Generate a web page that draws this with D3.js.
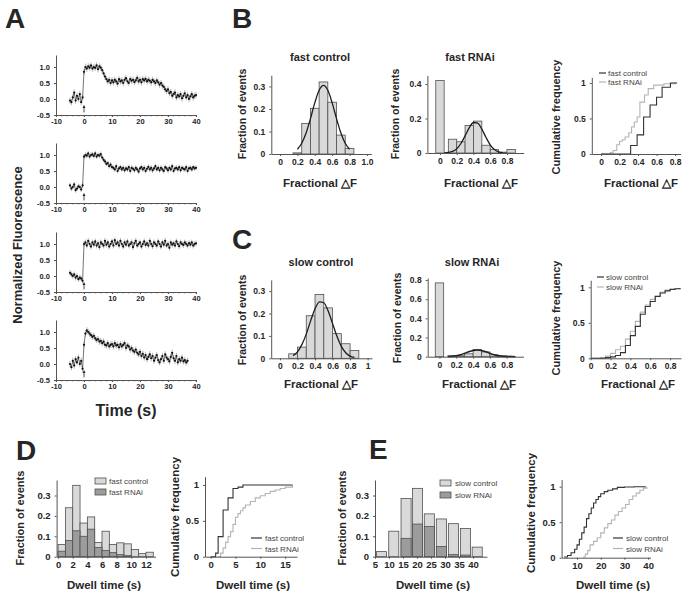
<!DOCTYPE html>
<html><head><meta charset="utf-8">
<script src="https://cdn.jsdelivr.net/npm/d3@7"></script>
<style>
body{margin:0;background:#fff}
svg{font-family:"Liberation Sans",Arial,sans-serif}
</style>
</head><body>
<svg id="c" width="692" height="595"></svg>
<script>
// ---------------- DATA ----------------
// Panel A: normalized fluorescence traces (time in s)
const traceTime = [-5,-4.5,-4,-3.5,-3,-2.5,-2,-1.5,-1,-0.5,0,0.5,1,1.5,2,2.5,3,3.5,4,4.5,5,5.5,6,6.5,7,7.5,8,8.5,9,9.5,10,10.5,11,11.5,12,12.5,13,13.5,14,14.5,15,15.5,16,16.5,17,17.5,18,18.5,19,19.5,20,20.5,21,21.5,22,22.5,23,23.5,24,24.5,25,25.5,26,26.5,27,27.5,28,28.5,29,29.5,30,30.5,31,31.5,32,32.5,33,33.5,34,34.5,35,35.5,36,36.5,37,37.5,38,38.5,39,39.5,40];
const trace1 = [-0.05,-0.1,0.05,0.2,-0.05,0.1,0.0,0.15,-0.1,0.05,
  0.85,
  1.0,0.95,1.02,0.98,1.05,0.95,1.0,0.97,1.05,0.93,1.02,0.98,
  0.9,0.8,0.7,0.62,0.55,0.6,0.5,0.58,
  0.52,0.6,0.55,0.48,0.62,0.55,0.58,0.5,0.6,0.65,0.55,0.5,0.62,0.57,0.6,0.53,0.58,0.66,0.55,0.6,0.52,0.62,0.58,0.63,0.55,0.6,0.57,0.52,0.6,0.55,0.5,0.58,0.52,0.45,
  0.5,0.42,0.38,0.3,0.25,0.3,0.18,0.22,0.1,0.15,0.2,0.05,0.12,0.08,0.15,0.02,0.1,0.18,0.05,0.12,0.0,0.08,0.15,0.05,0.1,0.12];
const trace2 = [0.05,-0.05,0.0,0.08,-0.1,-0.05,0.02,0.0,-0.08,0.05,
  0.95,
  1.0,0.98,1.05,0.95,1.0,1.02,0.97,1.05,0.95,1.0,0.98,1.03,
  0.92,0.85,0.8,0.72,0.75,0.65,0.7,0.62,
  0.6,0.55,0.65,0.5,0.58,0.62,0.55,0.6,0.52,0.58,0.55,0.62,0.5,0.6,0.57,0.52,0.6,0.55,0.48,0.58,0.62,0.55,0.6,0.5,0.57,0.63,0.55,0.6,0.52,0.58,0.65,0.55,0.6,0.52,
  0.6,0.55,0.5,0.62,0.58,0.52,0.6,0.55,0.65,0.5,0.58,0.6,0.55,0.62,0.52,0.6,0.57,0.55,0.62,0.5,0.58,0.6,0.55,0.62,0.58,0.6];
const trace3 = [0.1,0.05,0.0,0.05,-0.05,0.0,-0.1,-0.05,-0.08,-0.15,
  1.0,
  1.05,0.95,1.1,1.0,0.92,1.05,0.98,1.08,0.95,1.02,0.9,1.05,
  1.0,0.95,1.1,0.98,1.05,0.92,1.0,1.08,
  0.95,1.12,1.0,1.05,0.95,1.1,1.0,0.92,1.05,0.98,1.08,0.95,1.0,1.05,0.9,1.02,1.1,0.95,1.0,1.05,0.92,1.0,1.08,0.97,1.02,0.95,1.1,1.0,0.93,1.05,1.0,0.95,1.08,1.0,
  0.92,1.05,0.98,1.1,0.95,1.0,0.88,1.05,0.98,1.02,0.95,1.08,1.0,0.93,1.05,1.0,0.97,1.05,1.0,0.95,1.03,0.98,1.05,0.95,1.0,1.02];
const trace4 = [0.0,-0.1,0.1,-0.05,0.15,0.05,0.2,0.0,0.1,-0.15,
  0.6,
  0.95,1.05,1.0,0.95,0.9,0.85,0.88,0.8,0.75,0.78,0.7,0.72,
  0.65,0.7,0.6,0.58,0.65,0.55,0.6,0.62,
  0.55,0.65,0.58,0.6,0.52,0.62,0.55,0.6,0.65,0.5,0.58,0.55,0.45,0.5,0.42,0.38,0.45,0.35,0.3,0.38,0.25,0.32,0.2,0.28,0.15,0.22,0.3,0.18,0.25,0.1,0.2,0.28,0.12,0.05,
  0.15,0.25,0.1,0.3,0.2,0.15,0.08,0.22,0.35,0.18,0.1,0.25,0.05,0.15,0.1,0.2,0.08,0.12,0.05,0.1];
const traceErr = [0.1, 0.08, 0.09, 0.1];
const traceTicksX = [-10,0,10,20,30,40];
const traceTicksY = [-0.5,0,0.5,1.0];

// Panel B
const fastCtrlBin = [0.2,0.3,0.4,0.5,0.6,0.7,0.8];
const fastCtrlFrac = [0.005,0.136,0.203,0.32,0.23,0.084,0.025];
const fastCtrlFitX = [0.2,0.25,0.3,0.35,0.4,0.45,0.5,0.55,0.6,0.65,0.7,0.75,0.8];
const fastCtrlFitY = [0.021,0.048,0.093,0.157,0.227,0.283,0.305,0.283,0.227,0.157,0.093,0.048,0.021];
const fastRNAiBin = [0,0.15,0.25,0.35,0.45,0.55,0.65,0.75,0.85];
const fastRNAiFrac = [0.42,0.08,0.065,0.16,0.185,0.045,0.02,0.005,0.02];
const fastRNAiFitX = [0.05,0.1,0.15,0.2,0.25,0.3,0.35,0.4,0.45,0.5,0.55,0.6,0.65,0.7,0.75];
const fastRNAiFitY = [0.001,0.003,0.009,0.024,0.055,0.099,0.147,0.177,0.173,0.138,0.09,0.047,0.02,0.007,0.002];
const fastCtrlCumX = [0,0.32,0.39,0.46,0.53,0.6,0.66,0.75,0.82];
const fastCtrlCumY = [0,0.12,0.27,0.52,0.69,0.8,0.94,1.0,1.0];
const fastRNAiCumX = [0,0.1,0.13,0.17,0.2,0.23,0.26,0.3,0.33,0.36,0.39,0.42,0.47,0.51,0.57,0.68,0.8,0.82];
const fastRNAiCumY = [0,0.02,0.05,0.13,0.18,0.2,0.24,0.3,0.38,0.45,0.52,0.73,0.83,0.92,0.97,0.99,1.0,1.0];

// Panel C
const slowCtrlBin = [0.15,0.25,0.35,0.45,0.55,0.65,0.75,0.85];
const slowCtrlFrac = [0.02,0.05,0.19,0.285,0.225,0.11,0.065,0.035];
const slowCtrlFitX = [0.15,0.2,0.25,0.3,0.35,0.4,0.45,0.5,0.55,0.6,0.65,0.7,0.75,0.8,0.85];
const slowCtrlFitY = [0.012,0.029,0.061,0.108,0.167,0.221,0.252,0.248,0.211,0.155,0.098,0.053,0.025,0.01,0.004];
const slowRNAiBin = [0,0.15,0.25,0.35,0.45,0.55,0.65,0.75,0.85];
const slowRNAiFrac = [0.77,0.01,0.01,0.03,0.075,0.05,0.02,0.01,0.005];
const slowRNAiFitX = [0.1,0.15,0.2,0.25,0.3,0.35,0.4,0.45,0.5,0.55,0.6,0.65,0.7,0.75,0.8,0.85,0.9];
const slowRNAiFitY = [0.002,0.005,0.011,0.021,0.036,0.052,0.065,0.07,0.065,0.052,0.036,0.021,0.011,0.005,0.002,0.001,0];
const slowCtrlCumX = [0,0.15,0.2,0.25,0.3,0.35,0.4,0.45,0.5,0.55,0.6,0.65,0.7,0.75,0.8,0.85,0.9];
const slowCtrlCumY = [0,0.01,0.02,0.04,0.08,0.18,0.32,0.45,0.62,0.73,0.8,0.87,0.92,0.95,0.97,0.98,0.99];
const slowRNAiCumX = [0,0.1,0.15,0.2,0.25,0.3,0.35,0.4,0.45,0.5,0.55,0.6,0.65,0.7,0.75,0.8,0.9];
const slowRNAiCumY = [0,0.01,0.03,0.07,0.12,0.17,0.27,0.38,0.52,0.65,0.75,0.83,0.88,0.93,0.96,0.98,0.99];

// Panel D
const fastDwellBin = [0.5,1.5,2.5,3.5,4.5,5.5,6.5,7.5,8.5,9.5,10.5,11.5,12.5];
const fastCtrlDwellHist = [0.06,0.24,0.35,0.165,0.195,0.07,0.125,0.06,0.068,0.063,0.035,0.015,0.022];
const fastRNAiDwellHist = [0.027,0.08,0.127,0.1,0.135,0.045,0.03,0.02,0.01,0.005,0,0,0];
const fastCtrlDwellCumX = [0,1,1.5,2.5,3.5,4.5,5.5,6.5,16.5];
const fastCtrlDwellCumY = [0,0.05,0.28,0.65,0.82,0.95,0.97,1.0,1.0];
const fastRNAiDwellCumX = [1.5,2,2.5,3,3.5,4,4.5,5,5.5,6,6.5,7,8,9,10,11,12,13,14,15,16.5];
const fastRNAiDwellCumY = [0,0.05,0.12,0.2,0.28,0.35,0.45,0.55,0.6,0.64,0.68,0.72,0.77,0.82,0.85,0.88,0.91,0.93,0.95,0.97,1.0];

// Panel E
const slowDwellBin = [7.3,11.7,16.1,20.2,24.4,28.7,33.0,37.3,41.5];
const slowCtrlDwellHist = [0.025,0.125,0.285,0.335,0.21,0.185,0.162,0.138,0.047];
const slowRNAiDwellHist = [0,0,0.09,0.16,0.148,0.05,0.01,0.008,0];
const slowCtrlDwellCumX = [4.5,6,7.5,9,10,11,12,13,14,15,16,17,18,19,20,21.5,23,25,27,30,34,39];
const slowCtrlDwellCumY = [0.01,0.03,0.07,0.12,0.18,0.26,0.35,0.43,0.55,0.62,0.7,0.77,0.82,0.86,0.9,0.93,0.95,0.97,0.99,0.995,1.0,1.0];
const slowRNAiDwellCumX = [12.5,13.5,14.5,15.5,17,18.5,20,21.5,23,24.5,26,27.5,29,30.5,32,33.5,35,36.5,38,39.5];
const slowRNAiDwellCumY = [0.01,0.05,0.1,0.18,0.23,0.28,0.35,0.42,0.48,0.53,0.6,0.65,0.7,0.75,0.82,0.87,0.91,0.95,0.98,1.0];

// ---------------- DRAWING ----------------
const svg = d3.select("#c");
const INK = "#262626", AX = "#555";
const LIGHT = "#d9d9d9", DARK = "#9c9c9c";

function txt(x, y, s, size, opts = {}) {
  const t = svg.append("text").attr("x", x).attr("y", y).text(s)
    .attr("font-size", size).attr("fill", opts.fill || INK)
    .attr("font-weight", opts.weight || "bold")
    .attr("text-anchor", opts.anchor || "middle");
  if (opts.rot) t.attr("transform", `rotate(-90,${x},${y})`);
  return t;
}

function axes(x, y, o) {
  const g = svg.append("g");
  const gx = g.append("g").attr("transform", `translate(0,${y.range()[0]})`)
    .call(d3.axisBottom(x).tickValues(o.xt).tickFormat((d, i) => o.xl[i])
      .tickSize(o.ts || 2).tickSizeOuter(0).tickPadding(o.xpad || 3));
  const gy = g.append("g").attr("transform", `translate(${x.range()[0]},0)`)
    .call(d3.axisLeft(y).tickValues(o.yt).tickFormat((d, i) => o.yl[i])
      .tickSize(o.ts || 2).tickSizeOuter(0).tickPadding(o.ypad || 4));
  g.selectAll(".domain").attr("stroke", AX).attr("stroke-width", 1);
  g.selectAll(".tick line").attr("stroke", AX);
  g.selectAll("text").attr("font-size", o.fs || 8.5).attr("fill", INK)
    .attr("font-weight", "bold").attr("font-family", "Liberation Sans, Arial, sans-serif");
  return g;
}

function bars(x, y, centers, vals, w, fill) {
  svg.append("g").selectAll("rect").data(centers.map((c, i) => [c, vals[i]])).join("rect")
    .attr("x", d => x(d[0] - w / 2)).attr("width", d => x(d[0] + w / 2) - x(d[0] - w / 2))
    .attr("y", d => y(d[1])).attr("height", d => y(0) - y(d[1]))
    .attr("fill", fill).attr("stroke", "#505050").attr("stroke-width", 0.8);
}

function curve(x, y, xs, ys, color, width, kind) {
  const line = d3.line().x(d => x(d[0])).y(d => y(d[1]))
    .curve(kind === "step" ? d3.curveStepAfter : d3.curveMonotoneX);
  svg.append("path").datum(xs.map((v, i) => [v, ys[i]]))
    .attr("d", line).attr("fill", "none").attr("stroke", color).attr("stroke-width", width);
}

// ---- Panel letters ----
txt(5, 28, "A", 28, {anchor: "start"});
txt(232, 28, "B", 28, {anchor: "start"});
txt(232, 249, "C", 28, {anchor: "start"});
txt(16, 460, "D", 28, {anchor: "start"});
txt(369, 459, "E", 28, {anchor: "start"});

// ---- Panel A ----
const traces = [trace1, trace2, trace3, trace4];
const axisYs = [115, 203, 292, 380];
const xA = d3.scaleLinear().domain([-10, 40]).range([56, 196]);
traces.forEach((tr, k) => {
  const yA = d3.scaleLinear().domain([-0.5, 1.375]).range([axisYs[k], axisYs[k] - 60]);
  const g = axes(xA, yA, {xt: traceTicksX, xl: traceTicksX.map(String),
    yt: traceTicksY, yl: traceTicksY.map(d => d.toFixed(1)), fs: 7.5, xpad: 2, ypad: 4});
  // minor ticks on x axis
  svg.append("g").selectAll("line").data(d3.range(-10, 41, 2)).join("line")
    .attr("x1", d => xA(d)).attr("x2", d => xA(d))
    .attr("y1", axisYs[k]).attr("y2", axisYs[k] + 1.5).attr("stroke", AX).attr("stroke-width", 0.7);
  const pts = tr.map((v, i) => [traceTime[i], v]);
  const e = traceErr[k];
  svg.append("g").selectAll("line").data(pts).join("line")
    .attr("x1", d => xA(d[0])).attr("x2", d => xA(d[0]))
    .attr("y1", d => yA(d[1] - e)).attr("y2", d => yA(d[1] + e))
    .attr("stroke", "#8a8a8a").attr("stroke-width", 0.6);
  svg.append("path").datum(pts)
    .attr("d", d3.line().x(d => xA(d[0])).y(d => yA(d[1])))
    .attr("fill", "none").attr("stroke", "#3a3a3a").attr("stroke-width", 0.7);
  svg.append("g").selectAll("circle").data(pts).join("circle")
    .attr("cx", d => xA(d[0])).attr("cy", d => yA(d[1])).attr("r", 1.1).attr("fill", "#111");
  // stimulus arrow
  const ax0 = xA(0), ay1 = yA(-0.42), ay2 = yA(-0.2);
  svg.append("line").attr("x1", ax0).attr("x2", ax0).attr("y1", ay1).attr("y2", ay2)
    .attr("stroke", "#222").attr("stroke-width", 0.8);
  svg.append("path").attr("d", `M${ax0 - 1.5},${ay2 + 2.5}L${ax0},${ay2}L${ax0 + 1.5},${ay2 + 2.5}Z`).attr("fill", "#222");
});
txt(22, 245, "Normalized Fluorescence", 13, {rot: true});
txt(126, 416, "Time (s)", 16);

// ---- Panel B ----
const fracTicks5 = [0, 0.2, 0.4, 0.6, 0.8, 1.0];
// B1 fast control
{
  const x = d3.scaleLinear().domain([-0.1, 1.05]).range([271.3, 371.3]);
  const y = d3.scaleLinear().domain([0, 0.35]).range([154, 75.2]);
  bars(x, y, fastCtrlBin, fastCtrlFrac, 0.1, LIGHT);
  curve(x, y, fastCtrlFitX, fastCtrlFitY, "#1e1e1e", 1.3);
  axes(x, y, {xt: fracTicks5, xl: ["0", "0.2", "0.4", "0.6", "0.8", "1.0"],
    yt: [0, 0.1, 0.2, 0.3], yl: ["0", "0.1", "0.2", "0.3"]});
  txt(320, 61, "fast control", 11);
  txt(320, 187, "Fractional \u25B3F", 11.5);
  txt(246, 114, "Fraction of events", 10.5, {rot: true});
}
// B2 fast RNAi
{
  const x = d3.scaleLinear().domain([-0.15, 1.0]).range([427.4, 523.7]);
  const y = d3.scaleLinear().domain([0, 0.45]).range([153, 75.4]);
  bars(x, y, fastRNAiBin, fastRNAiFrac, 0.1, LIGHT);
  curve(x, y, fastRNAiFitX, fastRNAiFitY, "#1e1e1e", 1.3);
  axes(x, y, {xt: [0, 0.2, 0.4, 0.6, 0.8], xl: ["0", "0.2", "0.4", "0.6", "0.8"],
    yt: [0, 0.2, 0.4], yl: ["0", "0.2", "0.4"]});
  txt(470, 61, "fast RNAi", 11);
  txt(481, 187, "Fractional \u25B3F", 11.5);
  txt(399, 114, "Fraction of events", 10.5, {rot: true});
}
// B3 cumulative
{
  const x = d3.scaleLinear().domain([-0.1, 0.86]).range([591.8, 680.6]);
  const y = d3.scaleLinear().domain([0, 1.08]).range([154, 77.3]);
  curve(x, y, fastRNAiCumX, fastRNAiCumY, "#b4b4b4", 1.1, "step");
  curve(x, y, fastCtrlCumX, fastCtrlCumY, "#333", 1.1, "step");
  axes(x, y, {xt: [0, 0.2, 0.4, 0.6, 0.8], xl: ["0", "0.2", "0.4", "0.6", "0.8"],
    yt: [0, 0.5, 1], yl: ["0", "0.5", "1"]});
  txt(641, 187, "Fractional \u25B3F", 11.5);
  txt(560, 117, "Cumulative frequency", 11, {rot: true});
  svg.append("line").attr("x1", 599).attr("x2", 606).attr("y1", 73).attr("y2", 73).attr("stroke", "#333").attr("stroke-width", 1.2);
  svg.append("line").attr("x1", 599).attr("x2", 606).attr("y1", 82).attr("y2", 82).attr("stroke", "#b4b4b4").attr("stroke-width", 1.2);
  txt(608, 76, "fast control", 8, {anchor: "start", weight: "normal", fill: "#444"});
  txt(608, 85, "fast RNAi", 8, {anchor: "start", weight: "normal", fill: "#444"});
}

// ---- Panel C ----
{
  const x = d3.scaleLinear().domain([-0.1, 1.05]).range([271.2, 372]);
  const y = d3.scaleLinear().domain([0, 0.35]).range([358.3, 279.9]);
  bars(x, y, slowCtrlBin, slowCtrlFrac, 0.1, LIGHT);
  curve(x, y, slowCtrlFitX, slowCtrlFitY, "#1e1e1e", 1.3);
  axes(x, y, {xt: fracTicks5, xl: ["0", "0.2", "0.4", "0.6", "0.8", "1"],
    yt: [0, 0.1, 0.2, 0.3], yl: ["0", "0.1", "0.2", "0.3"]});
  txt(321, 266, "slow control", 11);
  txt(321, 388, "Fractional \u25B3F", 11.5);
  txt(246, 320, "Fraction of events", 10.5, {rot: true});
}
{
  const x = d3.scaleLinear().domain([-0.14, 1.0]).range([427.7, 523.5]);
  const y = d3.scaleLinear().domain([0, 0.82]).range([356.7, 278.1]);
  bars(x, y, slowRNAiBin, slowRNAiFrac, 0.1, LIGHT);
  curve(x, y, slowRNAiFitX, slowRNAiFitY, "#1e1e1e", 1.5);
  axes(x, y, {xt: [0, 0.2, 0.4, 0.6, 0.8], xl: ["0", "0.2", "0.4", "0.6", "0.8"],
    yt: [0, 0.2, 0.4, 0.6, 0.8], yl: ["0", "0.2", "0.4", "0.6", "0.8"]});
  txt(472, 266, "slow RNAi", 11);
  txt(479, 388, "Fractional \u25B3F", 11.5);
  txt(401, 318, "Fraction of events", 10.5, {rot: true});
}
{
  const x = d3.scaleLinear().domain([0, 0.91]).range([590.7, 681]);
  const y = d3.scaleLinear().domain([0, 1.1]).range([358.3, 280.2]);
  curve(x, y, slowRNAiCumX, slowRNAiCumY, "#b4b4b4", 1.1, "step");
  curve(x, y, slowCtrlCumX, slowCtrlCumY, "#333", 1.1, "step");
  axes(x, y, {xt: [0, 0.2, 0.4, 0.6, 0.8], xl: ["0", "0.2", "0.4", "0.6", "0.8"],
    yt: [0, 0.5, 1], yl: ["0", "0.5", "1"]});
  txt(638, 388, "Fractional \u25B3F", 11.5);
  txt(560, 318, "Cumulative frequency", 11, {rot: true});
  svg.append("line").attr("x1", 597).attr("x2", 604).attr("y1", 277).attr("y2", 277).attr("stroke", "#333").attr("stroke-width", 1.2);
  svg.append("line").attr("x1", 597).attr("x2", 604).attr("y1", 287).attr("y2", 287).attr("stroke", "#b4b4b4").attr("stroke-width", 1.2);
  txt(606, 280, "slow control", 8, {anchor: "start", weight: "normal", fill: "#444"});
  txt(606, 290, "slow RNAi", 8, {anchor: "start", weight: "normal", fill: "#444"});
}

// ---- Panel D ----
{
  const x = d3.scaleLinear().domain([-0.2, 13.3]).range([56.6, 155.5]);
  const y = d3.scaleLinear().domain([0, 0.376]).range([556.7, 480]);
  bars(x, y, fastDwellBin, fastCtrlDwellHist, 1, LIGHT);
  bars(x, y, fastDwellBin, fastRNAiDwellHist, 1, DARK);
  axes(x, y, {xt: [0, 2, 4, 6, 8, 10, 12], xl: ["0", "2", "4", "6", "8", "10", "12"],
    yt: [0, 0.1, 0.2, 0.3], yl: ["0", "0.1", "0.2", "0.3"], fs: 9.5});
  txt(104, 589, "Dwell time (s)", 11.5);
  txt(24, 518, "Fraction of events", 11, {rot: true});
  svg.append("rect").attr("x", 95).attr("y", 478).attr("width", 11).attr("height", 6).attr("fill", LIGHT).attr("stroke", "#505050").attr("stroke-width", 0.8);
  svg.append("rect").attr("x", 95).attr("y", 489).attr("width", 11).attr("height", 6).attr("fill", DARK).attr("stroke", "#505050").attr("stroke-width", 0.8);
  txt(109, 484, "fast control", 8, {anchor: "start", weight: "normal", fill: "#444"});
  txt(109, 495, "fast RNAi", 8, {anchor: "start", weight: "normal", fill: "#444"});
}
{
  const x = d3.scaleLinear().domain([-1.15, 17.4]).range([205, 297]);
  const y = d3.scaleLinear().domain([0, 1.115]).range([556.7, 476.7]);
  curve(x, y, fastRNAiDwellCumX, fastRNAiDwellCumY, "#b4b4b4", 1.1, "step");
  curve(x, y, fastCtrlDwellCumX, fastCtrlDwellCumY, "#333", 1.1, "step");
  axes(x, y, {xt: [0, 5, 10, 15], xl: ["0", "5", "10", "15"],
    yt: [0, 0.5, 1], yl: ["0", "0.5", "1"], fs: 9.5});
  txt(253, 589, "Dwell time (s)", 11.5);
  txt(179, 517, "Cumulative frequency", 11.5, {rot: true});
  svg.append("line").attr("x1", 251).attr("x2", 262).attr("y1", 538).attr("y2", 538).attr("stroke", "#333").attr("stroke-width", 1.2);
  svg.append("line").attr("x1", 251).attr("x2", 262).attr("y1", 548.5).attr("y2", 548.5).attr("stroke", "#b4b4b4").attr("stroke-width", 1.2);
  txt(265, 541, "fast control", 8, {anchor: "start", weight: "normal", fill: "#444"});
  txt(265, 551.5, "fast RNAi", 8, {anchor: "start", weight: "normal", fill: "#444"});
}

// ---- Panel E ----
{
  const x = d3.scaleLinear().domain([5, 45]).range([375, 487]);
  const y = d3.scaleLinear().domain([0, 0.376]).range([556.7, 480]);
  bars(x, y, slowDwellBin, slowCtrlDwellHist, 3.6, LIGHT);
  bars(x, y, slowDwellBin, slowRNAiDwellHist, 3.6, DARK);
  axes(x, y, {xt: [5, 10, 15, 20, 25, 30, 35, 40], xl: ["5", "10", "15", "20", "25", "30", "35", "40"],
    yt: [0, 0.1, 0.2, 0.3], yl: ["0", "0.1", "0.2", "0.3"], fs: 9.5});
  txt(433, 589, "Dwell time (s)", 11.5);
  txt(346, 518, "Fraction of events", 11, {rot: true});
  svg.append("rect").attr("x", 440).attr("y", 480).attr("width", 11).attr("height", 6).attr("fill", LIGHT).attr("stroke", "#505050").attr("stroke-width", 0.8);
  svg.append("rect").attr("x", 440).attr("y", 492).attr("width", 11).attr("height", 6).attr("fill", DARK).attr("stroke", "#505050").attr("stroke-width", 0.8);
  txt(455, 486, "slow control", 8, {anchor: "start", weight: "normal", fill: "#444"});
  txt(455, 498, "slow RNAi", 8, {anchor: "start", weight: "normal", fill: "#444"});
}
{
  const x = d3.scaleLinear().domain([3.5, 41]).range([561.6, 650.5]);
  const y = d3.scaleLinear().domain([0, 1.1]).range([557.7, 479.6]);
  curve(x, y, slowRNAiDwellCumX, slowRNAiDwellCumY, "#b4b4b4", 1.1, "step");
  curve(x, y, slowCtrlDwellCumX, slowCtrlDwellCumY, "#333", 1.1, "step");
  axes(x, y, {xt: [10, 20, 30, 40], xl: ["10", "20", "30", "40"],
    yt: [0, 0.5, 1], yl: ["0", "0.5", "1"], fs: 9.5});
  txt(613, 589, "Dwell time (s)", 11.5);
  txt(535, 513, "Cumulative frequency", 11.5, {rot: true});
  svg.append("line").attr("x1", 613).attr("x2", 623).attr("y1", 538).attr("y2", 538).attr("stroke", "#333").attr("stroke-width", 1.2);
  svg.append("line").attr("x1", 613).attr("x2", 623).attr("y1", 548.5).attr("y2", 548.5).attr("stroke", "#b4b4b4").attr("stroke-width", 1.2);
  txt(626, 541, "slow control", 8, {anchor: "start", weight: "normal", fill: "#444"});
  txt(626, 551.5, "slow RNAi", 8, {anchor: "start", weight: "normal", fill: "#444"});
}
</script>
</body></html>
